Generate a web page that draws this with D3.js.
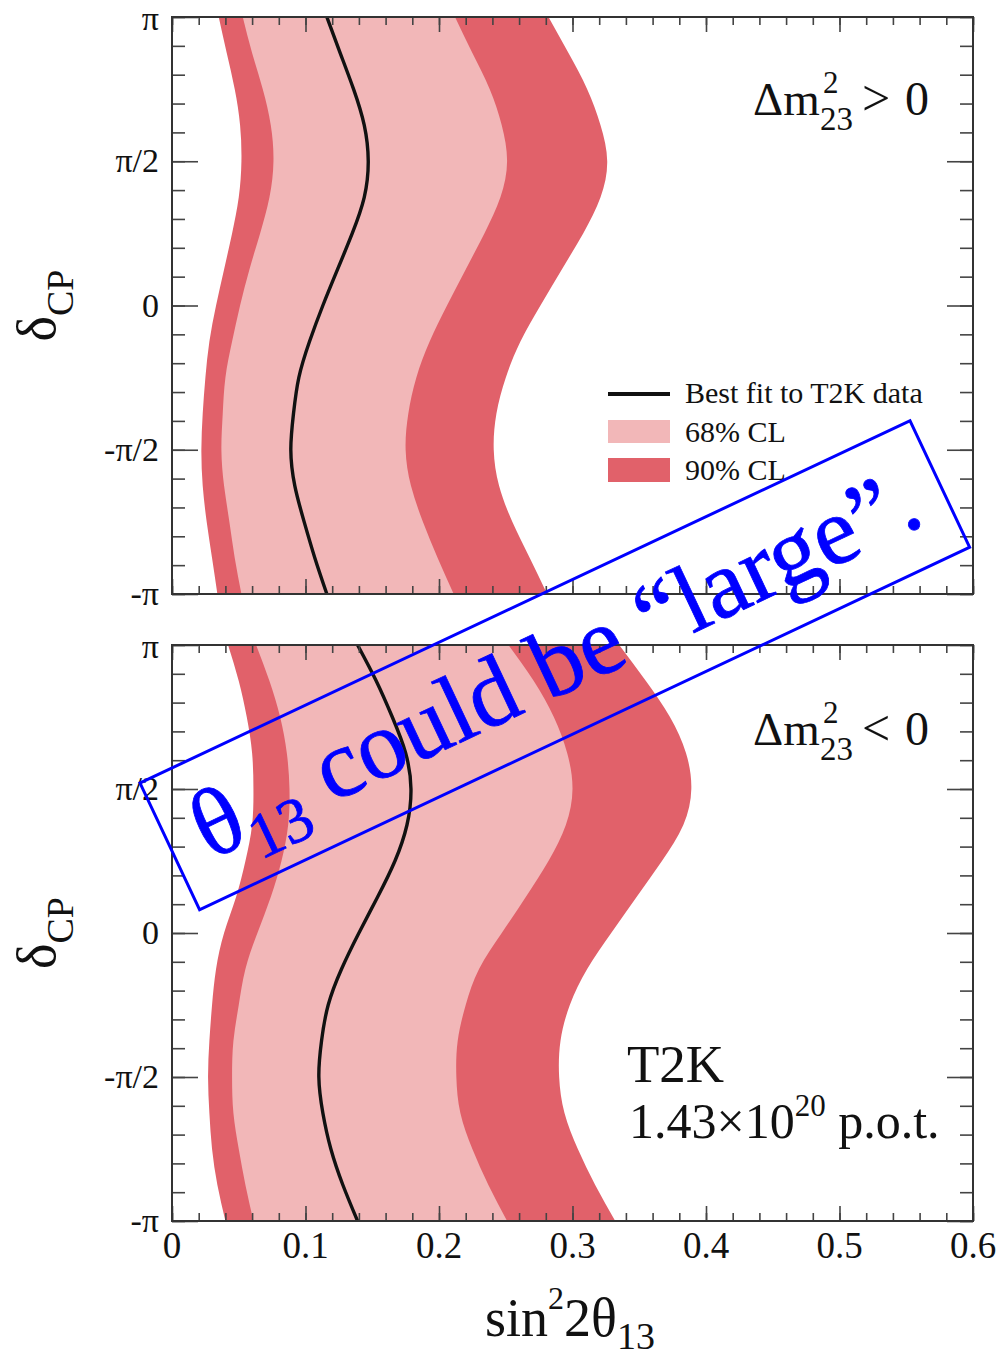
<!DOCTYPE html>
<html>
<head>
<meta charset="utf-8">
<script src="https://cdn.jsdelivr.net/npm/d3@7"></script>
<style>
  body { margin: 0; background: #fff; }
  text { font-family: "Liberation Serif", "Times New Roman", serif; fill: #111; }
</style>
</head>
<body>
<div id="chart"></div>
<script>

// DATA ------------------------------------------------------------
// delta_CP in units of pi, from +pi down to -pi
var deltaGrid = [1, 0.875, 0.75, 0.625, 0.5, 0.375, 0.25, 0.125, 0, -0.125, -0.25, -0.375, -0.5, -0.625, -0.75, -0.875, -1];

// sin^2 2theta13, dm2_23 > 0
var nh90Left  = [0.035, 0.041, 0.047, 0.051, 0.052, 0.050, 0.045, 0.039, 0.033, 0.028, 0.025, 0.023, 0.022, 0.023, 0.026, 0.030, 0.034];
var nh68Left  = [0.053, 0.060, 0.068, 0.074, 0.076, 0.073, 0.066, 0.058, 0.051, 0.045, 0.040, 0.038, 0.037, 0.039, 0.043, 0.047, 0.052];
var nhBest    = [0.116, 0.126, 0.136, 0.144, 0.147, 0.144, 0.135, 0.124, 0.113, 0.103, 0.095, 0.091, 0.089, 0.092, 0.099, 0.107, 0.116];
var nh68Right = [0.212, 0.225, 0.238, 0.247, 0.251, 0.246, 0.234, 0.220, 0.206, 0.193, 0.183, 0.177, 0.175, 0.179, 0.188, 0.199, 0.211];
var nh90Right = [0.282, 0.297, 0.311, 0.321, 0.326, 0.321, 0.308, 0.292, 0.276, 0.261, 0.250, 0.243, 0.241, 0.245, 0.255, 0.268, 0.281];

// sin^2 2theta13, dm2_23 < 0
var ih90Left  = [0.042, 0.050, 0.056, 0.060, 0.061, 0.060, 0.055, 0.048, 0.039, 0.033, 0.030, 0.028, 0.027, 0.028, 0.030, 0.034, 0.040];
var ih68Left  = [0.063, 0.073, 0.081, 0.086, 0.088, 0.087, 0.082, 0.074, 0.064, 0.055, 0.050, 0.046, 0.045, 0.046, 0.050, 0.055, 0.061];
var ihBest    = [0.139, 0.153, 0.165, 0.175, 0.179, 0.176, 0.167, 0.154, 0.140, 0.127, 0.117, 0.112, 0.110, 0.113, 0.119, 0.128, 0.139];
var ih68Right = [0.252, 0.271, 0.286, 0.296, 0.300, 0.295, 0.282, 0.265, 0.247, 0.230, 0.220, 0.214, 0.213, 0.216, 0.225, 0.237, 0.251];
var ih90Right = [0.335, 0.355, 0.373, 0.385, 0.389, 0.383, 0.367, 0.348, 0.329, 0.311, 0.298, 0.291, 0.290, 0.294, 0.304, 0.317, 0.332];

var xTickValues = [0, 0.1, 0.2, 0.3, 0.4, 0.5, 0.6];
var xTickLabels = ["0", "0.1", "0.2", "0.3", "0.4", "0.5", "0.6"];
var yTickValues = [1, 0.5, 0, -0.5, -1];
var yTickLabels = ["π", "π/2", "0", "-π/2", "-π"];
var legendLabels = ["Best fit to T2K data", "68% CL", "90% CL"];

var col68 = "#f2b7b8";
var col90 = "#e1616a";

// SVG -------------------------------------------------------------
var W = 1002, H = 1360;
var svg = d3.select("#chart").append("svg")
    .attr("width", W)
    .attr("height", H);

var x = d3.scaleLinear().domain([0, 0.6]).range([172, 973]);

var panels = [
    { top: 17,  bottom: 594,  l90: nh90Left, l68: nh68Left, best: nhBest, r68: nh68Right, r90: nh90Right, labels: false },
    { top: 645, bottom: 1221, l90: ih90Left, l68: ih68Left, best: ihBest, r68: ih68Right, r90: ih90Right, labels: true }
];

panels.forEach(function(p, i) {
    var y = d3.scaleLinear().domain([-1, 1]).range([p.bottom, p.top]);
    var g = svg.append("g");

    var rows = deltaGrid.map(function(d, k) {
        return { d: d, l90: p.l90[k], l68: p.l68[k], best: p.best[k], r68: p.r68[k], r90: p.r90[k] };
    });

    g.append("clipPath").attr("id", "clip" + i)
      .append("rect")
        .attr("x", x(0)).attr("y", p.top)
        .attr("width", x(0.6) - x(0)).attr("height", p.bottom - p.top);

    var plot = g.append("g").attr("clip-path", "url(#clip" + i + ")");
    var curve = d3.curveNatural;

    var area90 = d3.area().curve(curve)
        .y(d => y(d.d)).x0(d => x(d.l90)).x1(d => x(d.r90));
    var area68 = d3.area().curve(curve)
        .y(d => y(d.d)).x0(d => x(d.l68)).x1(d => x(d.r68));
    var bestLine = d3.line().curve(curve)
        .y(d => y(d.d)).x(d => x(d.best));

    plot.append("path").datum(rows).attr("d", area90).attr("fill", col90);
    plot.append("path").datum(rows).attr("d", area68).attr("fill", col68);
    plot.append("path").datum(rows).attr("d", bestLine)
        .attr("fill", "none").attr("stroke", "#111").attr("stroke-width", 3.4);

    // ticks, all pointing inward
    var xMinor = d3.range(0, 0.6001, 0.02);
    var yMinor = d3.range(-1, 1.0001, 0.1);
    function axisStyle(sel) {
        sel.select(".domain").remove();
        sel.selectAll("line").attr("stroke", "#444").attr("stroke-width", 1.6);
    }
    g.append("g").attr("transform", "translate(0," + p.bottom + ")")
        .call(d3.axisBottom(x).tickValues(xMinor).tickSizeInner(-8).tickSizeOuter(0).tickFormat(""))
        .call(axisStyle);
    g.append("g").attr("transform", "translate(0," + p.bottom + ")")
        .call(d3.axisBottom(x).tickValues(xTickValues).tickSizeInner(-15).tickSizeOuter(0).tickFormat(""))
        .call(axisStyle);
    g.append("g").attr("transform", "translate(0," + p.top + ")")
        .call(d3.axisTop(x).tickValues(xMinor).tickSizeInner(-8).tickSizeOuter(0).tickFormat(""))
        .call(axisStyle);
    g.append("g").attr("transform", "translate(0," + p.top + ")")
        .call(d3.axisTop(x).tickValues(xTickValues).tickSizeInner(-15).tickSizeOuter(0).tickFormat(""))
        .call(axisStyle);
    g.append("g").attr("transform", "translate(" + x(0) + ",0)")
        .call(d3.axisLeft(y).tickValues(yMinor).tickSizeInner(-13).tickSizeOuter(0).tickFormat(""))
        .call(axisStyle);
    g.append("g").attr("transform", "translate(" + x(0) + ",0)")
        .call(d3.axisLeft(y).tickValues(yTickValues).tickSizeInner(-26).tickSizeOuter(0).tickFormat(""))
        .call(axisStyle);
    g.append("g").attr("transform", "translate(" + x(0.6) + ",0)")
        .call(d3.axisRight(y).tickValues(yMinor).tickSizeInner(-13).tickSizeOuter(0).tickFormat(""))
        .call(axisStyle);
    g.append("g").attr("transform", "translate(" + x(0.6) + ",0)")
        .call(d3.axisRight(y).tickValues(yTickValues).tickSizeInner(-26).tickSizeOuter(0).tickFormat(""))
        .call(axisStyle);

    // frame
    g.append("rect")
        .attr("x", x(0)).attr("y", p.top)
        .attr("width", x(0.6) - x(0)).attr("height", p.bottom - p.top)
        .attr("fill", "none").attr("stroke", "#333").attr("stroke-width", 2);

    // y tick labels
    g.selectAll(".ylab").data(yTickValues).enter().append("text")
        .attr("x", x(0) - 13)
        .attr("y", d => y(d) + (d === 1 ? 13 : 11))
        .attr("text-anchor", "end")
        .attr("font-size", 34)
        .text((d, k) => yTickLabels[k]);

    // x tick labels only under the lower panel
    if (p.labels) {
        g.selectAll(".xlab").data(xTickValues).enter().append("text")
            .attr("x", d => x(d))
            .attr("y", p.bottom + 37)
            .attr("text-anchor", "middle")
            .attr("font-size", 37)
            .text((d, k) => xTickLabels[k]);
    }

    // y axis title
    var yt = g.append("text")
        .attr("transform", "translate(55," + ((p.top + p.bottom) / 2) + ") rotate(-90)")
        .attr("text-anchor", "middle");
    yt.append("tspan").attr("font-size", 54).text("δ");
    yt.append("tspan").attr("font-size", 38).attr("dy", 18).text("CP");
});

// Delta m^2 labels ---------------------------------------------------
function dmLabel(baseY, sign) {
    svg.append("text").attr("x", 753).attr("y", baseY).attr("font-size", 47).text("Δm");
    svg.append("text").attr("x", 823).attr("y", baseY - 22).attr("font-size", 31).text("2");
    svg.append("text").attr("x", 820).attr("y", baseY + 15).attr("font-size", 33).text("23");
    svg.append("text").attr("x", 862).attr("y", baseY).attr("font-size", 50).text(sign);
    svg.append("text").attr("x", 905).attr("y", baseY).attr("font-size", 48).text("0");
}
dmLabel(115, ">");
dmLabel(745, "<");

// exposure label
svg.append("text").attr("x", 627).attr("y", 1082).attr("font-size", 53).text("T2K");
var pot = svg.append("text").attr("x", 629).attr("y", 1138).attr("font-size", 50);
pot.append("tspan").text("1.43×10");
pot.append("tspan").attr("font-size", 31).attr("dy", -22).text("20");
pot.append("tspan").attr("dy", 22).text(" p.o.t.");

// legend
var legend = svg.append("g");
legend.append("line")
    .attr("x1", 608).attr("x2", 670).attr("y1", 394).attr("y2", 394)
    .attr("stroke", "#111").attr("stroke-width", 4);
legend.append("rect").attr("x", 608).attr("y", 420).attr("width", 62).attr("height", 23).attr("fill", col68);
legend.append("rect").attr("x", 608).attr("y", 458).attr("width", 62).attr("height", 24).attr("fill", col90);
legend.selectAll(".leg").data(legendLabels).enter().append("text")
    .attr("x", 685)
    .attr("y", (d, k) => [403, 442, 480][k])
    .attr("font-size", 30)
    .text(d => d);

// x axis title
var xt = svg.append("text").attr("x", 485).attr("y", 1336).attr("font-size", 54);
xt.append("tspan").text("sin");
xt.append("tspan").attr("font-size", 32).attr("dy", -27).text("2");
xt.append("tspan").attr("dy", 27).text("2θ");
xt.append("tspan").attr("font-size", 38).attr("dy", 13).text("13");

// annotation box
var note = svg.append("g").attr("transform", "translate(140,783) rotate(-25.2)");
note.append("rect")
    .attr("width", 851).attr("height", 140)
    .attr("fill", "none").attr("stroke", "#0000ff").attr("stroke-width", 3);
var nt = note.append("text").attr("x", 30).attr("y", 100).attr("font-size", 97)
    .style("fill", "#0000ff").style("stroke", "#0000ff").style("stroke-width", 0.8);
nt.append("tspan").text("θ");
nt.append("tspan").attr("font-size", 64).attr("dy", 21).text("13");
nt.append("tspan").attr("dy", -21).text(" could be “large”.");

</script>
</body>
</html>
